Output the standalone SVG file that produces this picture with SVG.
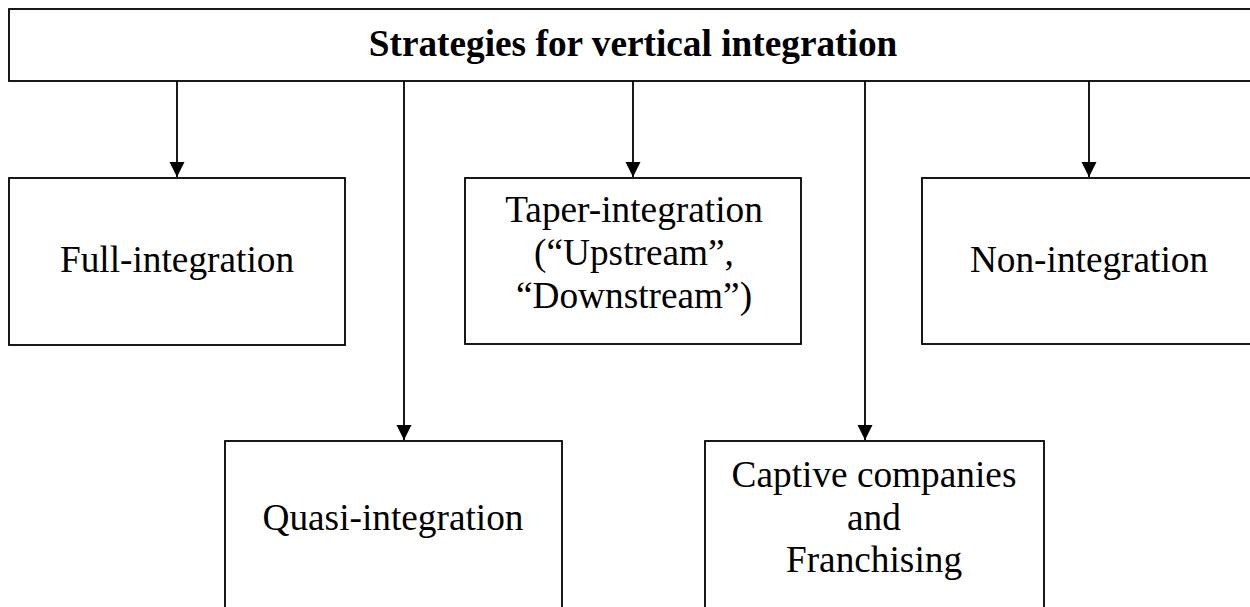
<svg xmlns="http://www.w3.org/2000/svg" width="1250" height="607" viewBox="0 0 1250 607">
  <style>
    .box { fill: #ffffff; stroke: #000000; stroke-width: 1.8; }
    .lbl { font-family: "Liberation Serif", "Times New Roman", serif; font-size: 37.3px; fill: #000000; text-anchor: middle; }
    .title { font-weight: bold; }
    .link { fill: none; stroke: #000000; stroke-width: 1.8; marker-end: url(#arrow); }
  </style>
  <defs>
    <!-- solid triangular head, tip at the end of the line -->
    <marker id="arrow" markerUnits="userSpaceOnUse" markerWidth="16" markerHeight="16" viewBox="0 0 16 16" refX="15" refY="8" orient="auto">
      <path d="M0,0.5 L15,8 L0,15.5 Z" fill="#000000"/>
    </marker>
  </defs>
  <rect width="1250" height="607" fill="#ffffff"/>

  <!-- root -->
  <g id="root">
    <rect class="box" x="9" y="9" width="1250" height="72"/>
    <text class="lbl title" x="633" y="56">Strategies for vertical integration</text>
  </g>

  <!-- connectors -->
  <g id="connectors">
    <line class="link" x1="177" y1="81" x2="177" y2="177"/>
    <line class="link" x1="404" y1="81" x2="404" y2="440"/>
    <line class="link" x1="633" y1="81" x2="633" y2="177"/>
    <line class="link" x1="865" y1="81" x2="865" y2="440"/>
    <line class="link" x1="1089" y1="81" x2="1089" y2="177"/>
  </g>

  <g id="full-integration">
    <rect class="box" x="9" y="178" width="336" height="167"/>
    <text class="lbl" x="177" y="272">Full-integration</text>
  </g>

  <g id="taper-integration">
    <rect class="box" x="465" y="178" width="336" height="166"/>
    <text class="lbl" x="634" y="222">Taper-integration</text>
    <text class="lbl" x="634" y="265">(“Upstream”,</text>
    <text class="lbl" x="634" y="308">“Downstream”)</text>
  </g>

  <g id="non-integration">
    <rect class="box" x="922" y="178" width="340" height="166"/>
    <text class="lbl" x="1089" y="272">Non-integration</text>
  </g>

  <g id="quasi-integration">
    <rect class="box" x="225" y="441" width="337" height="200"/>
    <text class="lbl" x="393" y="530">Quasi-integration</text>
  </g>

  <g id="captive-franchising">
    <rect class="box" x="705" y="441" width="339" height="200"/>
    <text class="lbl" x="874" y="487">Captive companies</text>
    <text class="lbl" x="874" y="530">and</text>
    <text class="lbl" x="874" y="572">Franchising</text>
  </g>
</svg>
